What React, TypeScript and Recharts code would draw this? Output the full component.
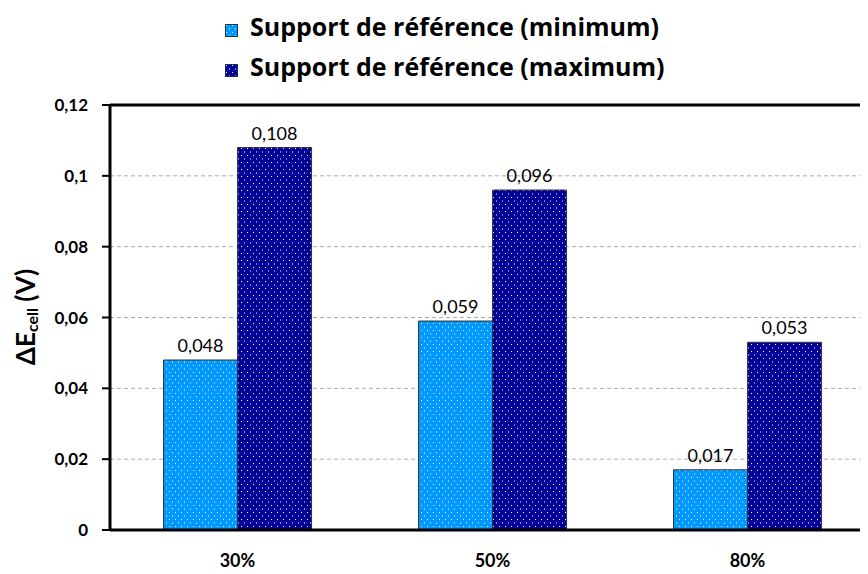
import React from "react";
import {
  BarChart,
  Bar,
  XAxis,
  YAxis,
  CartesianGrid,
  Legend,
  LabelList,
  ReferenceLine,
} from "recharts";

// Relative concentrations along the x axis.
const categories = ["30%", "50%", "80%"];
// ΔE_cell (V) per support type.
const minValues = [0.048, 0.059, 0.017];
const maxValues = [0.108, 0.096, 0.053];
const yTicks = [0, 0.02, 0.04, 0.06, 0.08, 0.1, 0.12];

const seriesNames = [
  "Support de référence (minimum)",
  "Support de référence (maximum)",
];

const FONT = "Lato, 'Open Sans', sans-serif";
const LEGEND_FONT = "'Open Sans', Lato, sans-serif";
const LIGHT = "#0099ff";
const DARK = "#000099";

const data = categories.map((c, i) => ({
  cat: c,
  min: minValues[i],
  max: maxValues[i],
}));

// French decimal comma, no trailing zeros.
const fr = (v: number) => String(v).replace(".", ",");

function Swatch({ id }: { id: string }) {
  return (
    <svg width={13} height={13} style={{ marginRight: 12, marginTop: 8 }}>
      <rect x={0.5} y={0.5} width={12} height={12} fill={`url(#${id})`} stroke="#134" />
    </svg>
  );
}

function LegendBox() {
  return (
    <div style={{ height: 90, paddingLeft: 225, fontFamily: LEGEND_FONT }}>
      {seriesNames.map((name, i) => (
        <div
          key={name}
          style={{
            display: "flex",
            alignItems: "center",
            height: 40,
            fontSize: 25,
            fontWeight: 700,
            color: "#000",
            whiteSpace: "nowrap",
          }}
        >
          <Swatch id={i === 0 ? "dotsLight" : "dotsDark"} />
          <span>{name}</span>
        </div>
      ))}
    </div>
  );
}

function YLabel() {
  const cx = 25;
  const cy = 317;
  return (
    <text
      x={cx}
      y={cy}
      transform={`rotate(-90, ${cx}, ${cy})`}
      textAnchor="middle"
      dominantBaseline="central"
      fontFamily={FONT}
      fontWeight={700}
      fontSize={26}
      fill="#000"
    >
      <tspan>ΔE</tspan>
      <tspan fontSize={16} dy={6}>cell</tspan>
      <tspan dy={-6}> (V)</tspan>
    </text>
  );
}

function DotPattern({ id, color }: { id: string; color: string }) {
  return (
    <pattern id={id} width={6} height={7} patternUnits="userSpaceOnUse">
      <rect width={6} height={7} fill={color} />
      <rect x={1} y={1} width={1} height={1} fill="#fff" />
      <rect x={4} y={4.5} width={1} height={1} fill="#fff" />
    </pattern>
  );
}

export default function App() {
  return (
    <div
      style={{
        position: "relative",
        width: 868,
        height: 574,
        overflow: "hidden",
        margin: "-8px 0 0 -8px",
        background: "#fff",
      }}
    >
      <BarChart
        width={882}
        height={574}
        data={data}
        margin={{ top: 15, right: 7, left: 0, bottom: 0 }}
        barCategoryGap="21%"
        barGap={0}
      >
        <defs>
          <DotPattern id="dotsLight" color={LIGHT} />
          <DotPattern id="dotsDark" color={DARK} />
        </defs>
        <Legend
          verticalAlign="top"
          align="left"
          wrapperStyle={{ top: 6, left: 0 }}
          content={() => <LegendBox />}
        />
        <CartesianGrid
          vertical={false}
          stroke="#aaa"
          strokeDasharray="4 3"
        />
        <XAxis
          dataKey="cat"
          height={44}
          tickLine={false}
          tickSize={0}
          tickMargin={24}
          axisLine={{ stroke: "#000", strokeWidth: 3 }}
          tick={{ fill: "#000", fontSize: 18, fontWeight: 700, fontFamily: FONT }}
        />
        <YAxis
          width={110}
          domain={[0, 0.12]}
          ticks={yTicks}
          tickFormatter={fr}
          tickSize={8}
          tickMargin={14}
          axisLine={{ stroke: "#000", strokeWidth: 3 }}
          tickLine={{ stroke: "#000", strokeWidth: 2 }}
          tick={{ fill: "#000", fontSize: 17, fontWeight: 700, fontFamily: FONT }}
          label={<YLabel />}
        />
        <ReferenceLine y={0.12} stroke="#000" strokeWidth={3} />
        <Bar
          dataKey="min"
          name={seriesNames[0]}
          fill="url(#dotsLight)"
          stroke="#333"
          strokeWidth={1}
          isAnimationActive={false}
        >
          <LabelList
            dataKey="min"
            position="top"
            offset={8}
            formatter={(v: any) => fr(v)}
            style={{ fill: "#000", fontSize: 18, fontFamily: FONT }}
          />
        </Bar>
        <Bar
          dataKey="max"
          name={seriesNames[1]}
          fill="url(#dotsDark)"
          stroke="#333"
          strokeWidth={1}
          isAnimationActive={false}
        >
          <LabelList
            dataKey="max"
            position="top"
            offset={8}
            formatter={(v: any) => fr(v)}
            style={{ fill: "#000", fontSize: 18, fontFamily: FONT }}
          />
        </Bar>
      </BarChart>
    </div>
  );
}
